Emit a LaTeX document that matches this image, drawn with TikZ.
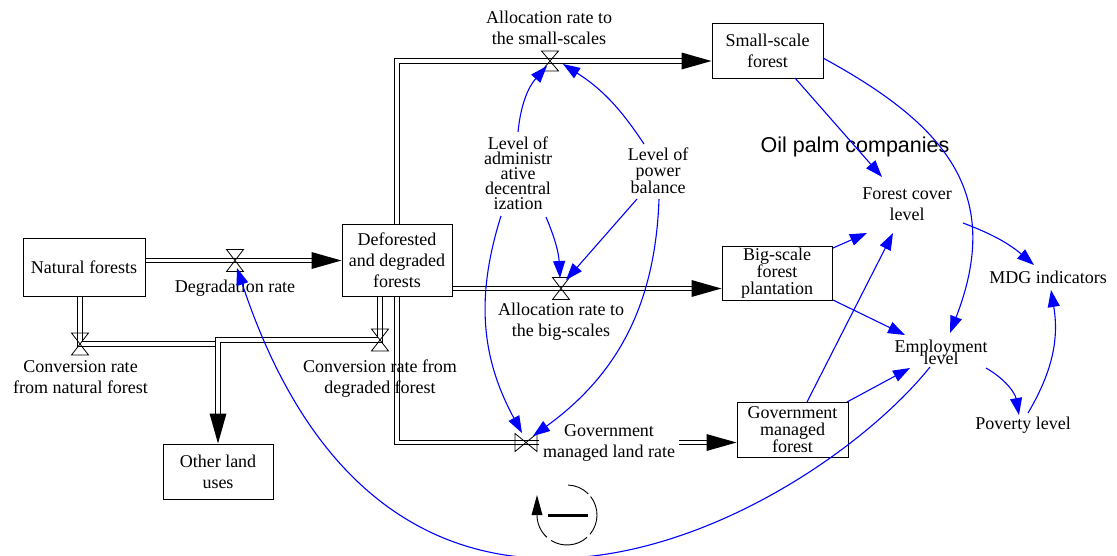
\documentclass[tikz,border=0pt]{standalone}
\usepackage{fontspec}
\setmainfont{Liberation Serif}
\newfontfamily\oilfont{Liberation Sans}
\usetikzlibrary{arrows.meta,decorations.markings,calc}
\pgfdeclarelayer{bg}
\pgfsetlayers{bg,main}
\newcommand{\tightfont}[1]{\fontsize{18}{#1}\selectfont\lineskiplimit=-50pt\lineskip=0pt}
\begin{document}
\begin{tikzpicture}[x=1pt,y=-1pt,
  every node/.style={font=\fontsize{18}{21}\selectfont, inner sep=0pt, align=center},
  stock/.style={draw, fill=white, line width=1pt},
  valveh/.style={minimum width=17pt, minimum height=22pt, inner sep=0pt, outer sep=0pt},
  valvev/.style={minimum width=22pt, minimum height=18pt, inner sep=0pt, outer sep=0pt},
  valveline/.style={line width=0.8pt},
  pipe/.style={draw, line width=1pt, double=white, double distance=3.6pt},
  flow/.style={pipe, shorten >=24pt, postaction={decorate},
    decoration={markings, mark=at position 1 with {\fill[black] (0pt,0pt) -- (-30pt,8.5pt) -- (-30pt,-8.5pt) -- cycle;}}},
  link/.style={draw=blue, line width=1.1pt, -{Triangle[length=17pt,width=12pt]}},
  loopline/.style={line width=0.9pt}
]
\useasboundingbox (0,0) rectangle (1117,555);

% stocks
\node[stock, minimum width=122pt, minimum height=58pt] (nat) at (84,267) {Natural forests};
\node[stock, minimum width=110pt, minimum height=72pt] (def) at (397,260) {Deforested\\and degraded\\forests};
\node[stock, minimum width=110pt, minimum height=55pt] (olu) at (218,471.5) {Other land\\uses};
\node[stock, minimum width=111pt, minimum height=55pt] (small) at (767.5,50.5) {Small-scale\\forest};
\node[stock, minimum width=110pt, minimum height=54pt, font=\tightfont{17}] (big) at (777,273) {Big-scale\\forest\\plantation};
\node[stock, minimum width=111pt, minimum height=55pt, font=\tightfont{17}] (gov) at (792.5,429.5) {Government\\managed\\forest};

% valves
\node[valveh] (v1) at (235,260.5) {};
\node[valveh] (v2) at (80,344) {};
\node[valveh] (v3) at (380,340) {};
\node[valveh, minimum height=20pt] (v4) at (550,61) {};
\node[valveh] (v5) at (561,288.5) {};
\node[valvev] (v6) at (526,442.5) {};

% pipes
\begin{pgfonlayer}{bg}
\draw[flow] (nat.east |- v1) -- (def.west |- v1);
\draw[pipe] (nat.south -| v2) -- (v2.center) -- (v2.center -| olu.north);
\draw[flow] (def.south -| v3) -- (v3.center) -- (v3.center -| olu.north) -- (olu.north);
\draw[flow] (def.north) |- (v4.center) -- (small.west |- v4);
\draw[flow] (def.east |- v5) -- (big.west |- v5);
\draw[flow] (def.south) |- (v6.center) -- (gov.west |- v6);
\end{pgfonlayer}

\foreach \v in {v1,v2,v3,v4,v5}
  \draw[valveline] (\v.north west) -- (\v.south east) -- (\v.south west) -- (\v.north east) -- cycle;
\draw[valveline] (v6.north west) -- (v6.south west) -- (v6.north east) -- (v6.south east) -- cycle;

% rate labels
\node (ldeg) at (235,288) {Degradation rate};
\node (lcn) at (80.5,377.5) {Conversion rate\\from natural forest};
\node (lcd) at (380,378.5) {Conversion rate from\\degraded forest};
\node (lsmall) at (549,27.5) {Allocation rate to\\the small-scales};
\node (lbig) at (561,322) {Allocation rate to\\the big-scales};
\node[fill=white, inner xsep=4pt, inner ysep=2pt] (lgov) at (609,443) {Government\\managed land rate};

% auxiliaries
\node[font=\tightfont{15}] (dec) at (518,173.5) {Level of\\administr\\ative\\decentral\\ization};
\node[font=\tightfont{16.5}] (pow) at (658,170.5) {Level of\\power\\balance};
\node[font=\oilfont\fontsize{21.5}{24}\selectfont, anchor=base] (oil) at (855,152.5) {Oil palm companies};
\node (fcl) at (907,204.5) {Forest cover\\level};
\node (mdg) at (1048,277) {MDG indicators};
\node[font=\tightfont{12}] (emp) at (941,352.5) {Employment\\level};
\node (pov) at (1023,425) {Poverty level};

% links
\draw[link] ([shift={(0,-41.5)}]dec.center) to[bend left=18] ([shift={(-3,5)}]v4.center);
\draw[link] ([shift={(-14,-26.5)}]pow.center) to[bend right=12] ([shift={(13,3)}]v4.center);
\draw[link] ([shift={(28,43.5)}]dec.center) to[bend left=10] ([shift={(-1,-10.5)}]v5.center);
\draw[link] ([shift={(-21,28.5)}]pow.center) -- ([shift={(5,-8.5)}]v5.center);
\draw[link] ([shift={(-17,42.5)}]dec.center) to[bend right=23] ([shift={(-4,-9.5)}]v6.center);
\draw[link] ([shift={(1,28.5)}]pow.center) to[bend left=26] ([shift={(7,-6.5)}]v6.center);
\draw[link] ([shift={(-11,14.5)}]emp.center) .. controls (814,512) and (397,751) .. ([shift={(2,7.5)}]v1.center);
\draw[link] ([shift={(55.5,7.5)}]small.center) .. controls (946,125) and (1004,193.5) .. ([shift={(9,-19.5)}]emp.center);
\draw[link] ([shift={(27.5,27.5)}]small.center) -- ([shift={(-25,-27.5)}]fcl.center);
\draw[link] ([shift={(56,-25)}]big.center) -- ([shift={(-40,28.5)}]fcl.center);
\draw[link] ([shift={(56,27)}]big.center) -- ([shift={(-36,-17.5)}]emp.center);
\draw[link] ([shift={(14.5,-27.5)}]gov.center) -- ([shift={(-14,28.5)}]fcl.center);
\draw[link] ([shift={(54.5,-27.5)}]gov.center) -- ([shift={(-31,15.5)}]emp.center);
\draw[link] ([shift={(56,18.5)}]fcl.center) to[bend left=10] ([shift={(-14,-12)}]mdg.center);
\draw[link] ([shift={(45,15.5)}]emp.center) to[bend left=25] ([shift={(-4,-10)}]pov.center);
\draw[link] ([shift={(5,-12)}]pov.center) to[bend right=20] ([shift={(3,13)}]mdg.center);

% loop symbol
\begin{scope}[shift={(567,515)}]
  \draw[loopline] (88:30pt) arc[start angle=88, end angle=45, radius=30pt];
  \draw[loopline] (38:30pt) arc[start angle=38, end angle=-40, radius=30pt];
  \draw[loopline] (-48:30pt) arc[start angle=-48, end angle=-122, radius=30pt];
  \draw[loopline] (-132:30pt) arc[start angle=-132, end angle=-180, radius=30pt];
  \fill (-35.5pt,0pt) -- (-24.5pt,0pt) -- (-30pt,20pt) -- cycle;
  \draw[line width=3pt] (-19pt,0pt) -- (21pt,0pt);
\end{scope}
\end{tikzpicture}
\end{document}
